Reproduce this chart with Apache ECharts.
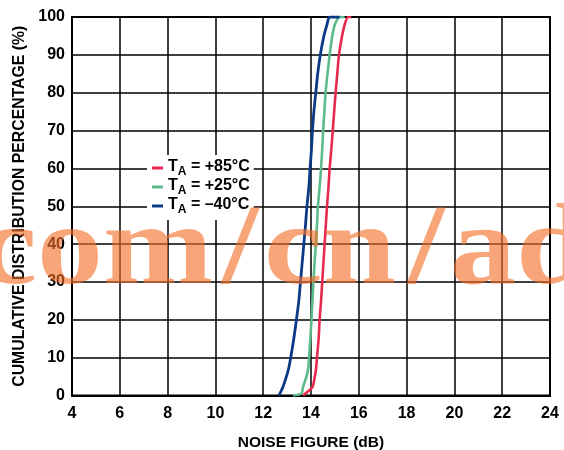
<!DOCTYPE html>
<html><head><meta charset="utf-8">
<script src="https://cdn.jsdelivr.net/npm/echarts@6/dist/echarts.min.js"></script>
<style>html,body{margin:0;padding:0;background:#fff}#c{width:564px;height:450px}</style>
</head><body><div id="c"></div>
<script>
// ---- data ----
const xTickLabels = [4, 6, 8, 10, 12, 14, 16, 18, 20, 22, 24];
const yTickLabels = [0, 10, 20, 30, 40, 50, 60, 70, 80, 90, 100];
const seriesNames = ['+85°C', '+25°C', '–40°C'];

const red85NF  = [13.67,13.92,14.07,14.16,14.21,14.25,14.32,14.36,14.42,14.47,14.52,14.57,14.62,14.67,14.73,14.78,14.85,14.91,14.97,15.03,15.10,15.17,15.30,15.41,15.55,15.69];
const red85Pct = [0,1.3,2.3,5,7,10,15,20,25,30,35,40,45,50,55,60,65,70,75,80,85,90,95,98,100,100];

const grn25NF  = [13.25,13.60,13.67,13.81,13.88,13.92,13.97,14.02,14.06,14.10,14.15,14.20,14.25,14.29,14.36,14.42,14.47,14.51,14.56,14.61,14.69,14.78,14.89,15.00,15.20,15.41];
const grn25Pct = [0,0.5,2.3,5,7,10,15,20,25,30,35,40,45,50,55,60,65,70,75,80,85,90,95,98,100,100];

const blu40NF  = [12.66,12.83,12.97,13.06,13.15,13.28,13.39,13.49,13.56,13.63,13.70,13.77,13.83,13.91,13.96,14.02,14.06,14.12,14.20,14.28,14.39,14.54,14.67,14.78,15.20];
const blu40Pct = [0,2.3,5,7,10,15,20,25,30,35,40,45,50,55,60,65,70,75,80,85,90,95,98,100,100];

const watermark = ['com', '/', 'cn', '/', 'ad'];

// ---- chart ----
const pair = (xs, ys) => xs.map((x, i) => [x, ys[i]]);
const FONT = 'Liberation Sans';
const chart = echarts.init(document.getElementById('c'), null, {renderer: 'canvas'});
const wmStyle = {fontSize: 132, fontWeight: 'bold', fontFamily: 'Liberation Serif', fill: 'rgba(245,110,40,0.62)', verticalAlign: 'middle'};
const wmPos = [[213, 'right'], [240, 'center'], [264, 'left'], [426, 'center'], [450, 'left']];
chart.setOption({
  animation: false,
  backgroundColor: '#fff',
  grid: {left: 72, right: 14, top: 17, bottom: 54.5, outerBoundsMode: 'none', containLabel: false, show: true, borderColor: '#000', borderWidth: 2, backgroundColor: 'transparent'},
  xAxis: {
    type: 'value', min: xTickLabels[0], max: xTickLabels[xTickLabels.length - 1], interval: 2,
    name: 'NOISE FIGURE (dB)', nameLocation: 'middle', nameGap: 39,
    nameTextStyle: {fontFamily: FONT, fontWeight: 'bold', fontSize: 15.5, color: '#000'},
    axisLine: {show: true, lineStyle: {color: '#000', width: 2}},
    axisTick: {show: false},
    axisLabel: {fontFamily: FONT, fontWeight: 'bold', fontSize: 16, color: '#000', margin: 10},
    splitLine: {show: true, lineStyle: {color: '#000', width: 1.5}}
  },
  yAxis: {
    type: 'value', min: yTickLabels[0], max: yTickLabels[yTickLabels.length - 1], interval: 10,
    name: 'CUMULATIVE DISTRIBUTION PERCENTAGE (%)', nameLocation: 'middle', nameGap: 44,
    nameTextStyle: {fontFamily: FONT, fontWeight: 'bold', fontSize: 15.8, color: '#000'},
    axisLine: {show: true, lineStyle: {color: '#000', width: 2}},
    axisTick: {show: false},
    axisLabel: {fontFamily: FONT, fontWeight: 'bold', fontSize: 16, color: '#000', margin: 7},
    splitLine: {show: true, lineStyle: {color: '#000', width: 1.5}}
  },
  legend: {
    orient: 'vertical', left: 147, top: 155, padding: [4, 4, 4, 5], itemGap: 0,
    backgroundColor: '#fff', itemWidth: 11, itemHeight: 3, icon: 'rect', selectedMode: false,
    data: seriesNames,
    formatter: n => '{t|T}{s|A}{t| = ' + n + '}',
    textStyle: {
      rich: {
        t: {fontFamily: FONT, fontWeight: 'bold', fontSize: 16, color: '#000', lineHeight: 18, verticalAlign: 'top'},
        s: {fontFamily: FONT, fontWeight: 'bold', fontSize: 12, color: '#000', lineHeight: 12, padding: [7, 0, 0, 0], verticalAlign: 'top'}
      }
    }
  },
  series: [
    {name: seriesNames[0], type: 'line', showSymbol: false, smooth: 0.25, data: pair(red85NF, red85Pct), color: '#e5294f', lineStyle: {width: 2.6}},
    {name: seriesNames[1], type: 'line', showSymbol: false, smooth: 0.25, data: pair(grn25NF, grn25Pct), color: '#5cba8c', lineStyle: {width: 2.6}},
    {name: seriesNames[2], type: 'line', showSymbol: false, smooth: 0.25, data: pair(blu40NF, blu40Pct), color: '#0a3a86', lineStyle: {width: 2.8}}
  ],
  graphic: watermark.map((t, i) => ({
    type: 'text', silent: true, z: 100, x: wmPos[i][0], y: 249,
    originX: 0, originY: 36, scaleY: 0.86,
    style: Object.assign({text: t, align: wmPos[i][1]}, wmStyle)
  }))
});
</script></body></html>
